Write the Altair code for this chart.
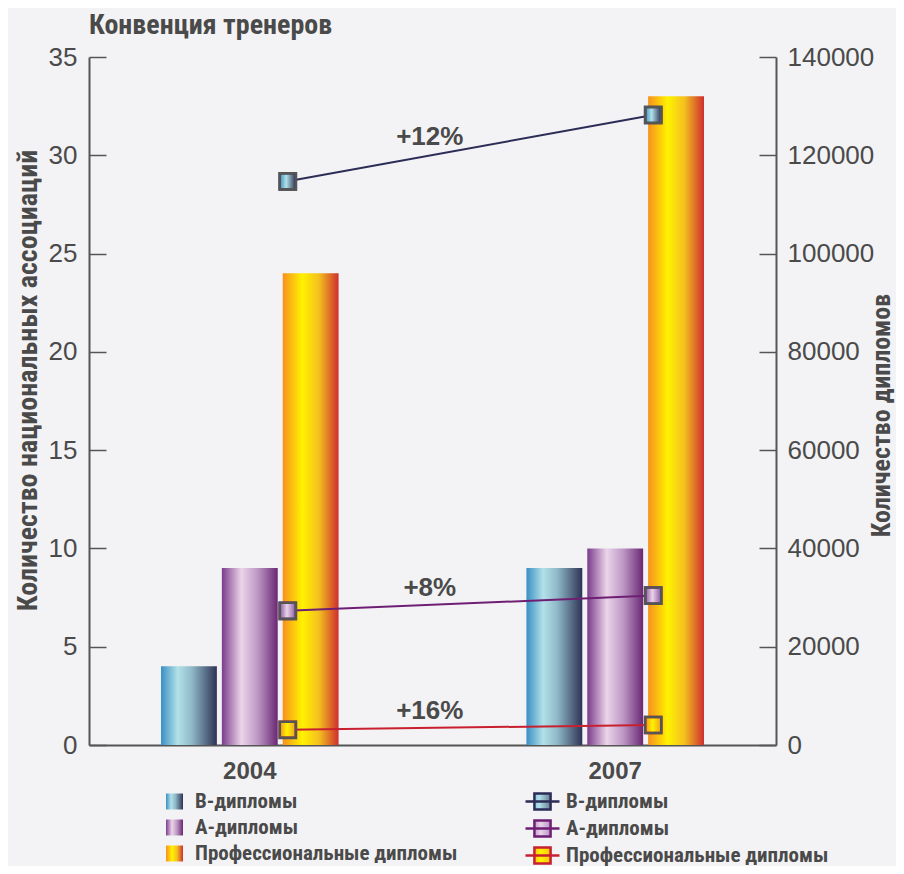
import altair as alt
import pandas as pd

# ---------------- data ----------------
years = ["2004", "2007"]
series = ["В-дипломы", "А-дипломы", "Профессиональные дипломы"]
associations_2004 = [4, 9, 24]          # left axis (bars)
associations_2007 = [9, 10, 33]
diplomas_2004 = [114700, 27300, 3100]   # right axis (lines)
diplomas_2007 = [128200, 30400, 4070]
growth_labels = ["+12%", "+8%", "+16%"]
growth_label_y = [123700, 31950, 6920]

# ---------------- styles ----------------
COND = "'Liberation Sans Narrow', 'Roboto Condensed', 'Liberation Sans', sans-serif"
SANS = "'Liberation Sans', Arial, sans-serif"
TXT = "#4a4a4a"
AX = "#555555"


def grad(stops):
    inner = ", ".join("{offset: %s, color: '%s'}" % (o, c) for o, c in stops)
    return {"expr": "{gradient: 'linear', x1: 0, y1: 0, x2: 1, y2: 0, stops: [" + inner + "]}"}


bar_grads = [
    grad([(0, "#3a8fc4"), (0.3, "#b2e1e8"), (0.55, "#8fb9c8"), (1, "#2d3355")]),
    grad([(0, "#7a3c8c"), (0.35, "#ecd5ea"), (0.65, "#bb95c3"), (1, "#6a2872")]),
    grad([(0, "#f7901e"), (0.35, "#fff200"), (0.65, "#f3c01f"), (1, "#cf2e2e")]),
]
marker_grads = [
    grad([(0, "#3a8fc4"), (0.4, "#b2e1e8"), (1, "#2d3355")]),
    grad([(0, "#8a56a0"), (0.45, "#ead4ea"), (1, "#8a56a0")]),
    grad([(0, "#f7901e"), (0.45, "#fff200"), (1, "#f0a020")]),
]
line_colors = ["#2b2d57", "#6e1f74", "#c8202f"]

# per-series line colour as an expression (works for marks and for legend entries)
_names_js = "[" + ", ".join("'%s'" % s for s in series) + "]"
_colors_js = "[" + ", ".join("'%s'" % c for c in line_colors) + "]"
line_color_expr = "%s[indexof(%s, datum.series_line || datum.value)]" % (_colors_js, _names_js)

# ---------------- tables ----------------
bars_df = pd.DataFrame({
    "year": [y for y in years for _ in series],
    "series": series * 2,
    "value": associations_2004 + associations_2007,
})
lines_df = pd.DataFrame({
    "year": [y for y in years for _ in series],
    "series_line": series * 2,
    "diplomas": diplomas_2004 + diplomas_2007,
})
labels_df = pd.DataFrame({
    "year": [years[0]] * len(growth_labels),
    "label": growth_labels,
    "label_y": growth_label_y,
})


def x_enc():
    return alt.X(
        "year:N",
        scale=alt.Scale(domain=years, paddingInner=0.514, paddingOuter=0.197),
        axis=alt.Axis(
            title=None, labelAngle=0, ticks=False, labelPadding=14,
            labelFont=SANS, labelFontSize=24, labelFontWeight="bold", labelColor=TXT,
            domainColor=AX, domainWidth=2,
        ),
    )


def right_y(field):
    return alt.Y(
        field + ":Q",
        scale=alt.Scale(domain=[0, 140000], nice=False),
        axis=alt.Axis(
            orient="right", values=list(range(0, 140001, 20000)), format="d",
            title="Количество дипломов", ticks=False, labelPadding=11,
            labelFont=SANS, labelFontSize=26, labelColor=TXT,
            domainColor=AX, domainWidth=2,
            grid=True, gridDash=[17, 1000], gridColor=AX, gridWidth=1.5,
            titleFont=COND, titleFontSize=26, titleFontWeight="bold", titleColor=TXT,
            titleAngle=270, titleBaseline="middle", titleX=105, titleY=358,
        ),
    )


line_legend = alt.Legend(
    orient="none", legendX=443, legendY=734, title=None,
    symbolType="M-2,0H2M-0.95,-0.95H0.95V0.95H-0.95Z", symbolSize=289,
    symbolStrokeWidth=2.5, labelOffset=13, rowPadding=0,
    labelFont=COND, labelFontSize=21, labelFontWeight="bold", labelColor=TXT, labelLimit=400,
)

bars = alt.Chart(bars_df).mark_bar().encode(
    x=x_enc(),
    xOffset=alt.XOffset("series:N", scale=alt.Scale(domain=series, paddingInner=0.082, paddingOuter=0)),
    y=alt.Y(
        "value:Q",
        scale=alt.Scale(domain=[0, 35], nice=False),
        axis=alt.Axis(
            orient="left", values=list(range(0, 36, 5)), ticks=False, labelPadding=12,
            title="Количество национальных ассоциаций",
            labelFont=SANS, labelFontSize=26, labelColor=TXT,
            domainColor=AX, domainWidth=2,
            grid=True, gridDash=[17, 1000], gridColor=AX, gridWidth=1.5,
            titleFont=COND, titleFontSize=28, titleFontWeight="bold", titleColor=TXT,
            titleAngle=270, titleBaseline="middle", titleX=-61, titleY=323,
        ),
    ),
    fill=alt.Fill(
        "series:N",
        scale=alt.Scale(domain=series, range=bar_grads),
        legend=alt.Legend(
            orient="none", legendX=75, legendY=734, title=None,
            symbolType="M-1,-0.94H1V0.94H-1Z", symbolSize=289, symbolStrokeWidth=0,
            labelOffset=10, rowPadding=4,
            labelFont=COND, labelFontSize=21, labelFontWeight="bold", labelColor=TXT, labelLimit=400,
        ),
    ),
)

lines = alt.Chart(lines_df).mark_line(strokeWidth=2, xOffset=38).encode(
    x=x_enc(),
    y=right_y("diplomas"),
    stroke=alt.Stroke("series_line:N", scale=alt.Scale(domain=series, range=line_colors), legend=None),
)

# markers: gradient fill + series-coloured stroke (the legend takes both) ...
points = alt.Chart(lines_df).mark_point(
    shape="square", filled=True, size=260, strokeWidth=2.5, opacity=1, xOffset=38
).encode(
    x=x_enc(),
    y=right_y("diplomas"),
    fill=alt.Fill("series_line:N", scale=alt.Scale(domain=series, range=marker_grads), legend=line_legend),
    stroke=alt.value({"expr": line_color_expr}),
)

# ... covered by a grey outline as in the original
outlines = alt.Chart(lines_df).mark_point(
    shape="square", filled=False, size=260, stroke=AX, strokeWidth=2.6, opacity=1, xOffset=38
).encode(
    x=x_enc(),
    y=right_y("diplomas"),
)

texts = alt.Chart(labels_df).mark_text(
    dx=180, font=SANS, fontSize=26, fontWeight="bold", color=TXT, baseline="middle"
).encode(
    x=x_enc(),
    y=right_y("label_y"),
    text="label:N",
)

chart = alt.layer(bars, alt.layer(lines, points, outlines, texts)).resolve_scale(
    y="independent", fill="independent"
).properties(
    width=687,
    height=688,
    autosize=alt.AutoSizeParams(type="none"),
    padding={"left": 81, "top": 49, "right": 120, "bottom": 121},
    background="#f3f3f5",
    title=alt.TitleParams(
        "Конвенция тренеров", anchor="start", frame="group", offset=4,
        font=COND, fontSize=28, fontWeight="bold", color=TXT,
    ),
).configure_view(stroke=None)

chart.save("out.html", embed_options={"renderer": "svg", "actions": False})
